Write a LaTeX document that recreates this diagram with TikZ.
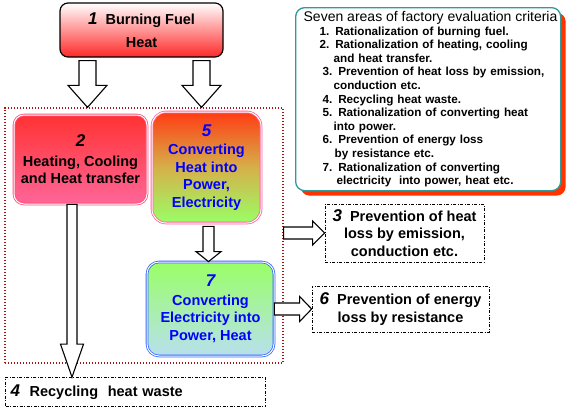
\documentclass[tikz,border=0pt]{standalone}
\usepackage{fontspec}
\setmainfont{Liberation Sans}
\usetikzlibrary{calc, positioning, shadows}
\definecolor{fuelred}{RGB}{255,40,40}
\definecolor{heatred}{RGB}{255,50,50}
\definecolor{heatpink}{RGB}{255,102,153}
\definecolor{powerred}{RGB}{255,60,20}
\definecolor{powermid}{RGB}{214,176,74}
\definecolor{powergreen}{RGB}{153,255,102}
\definecolor{elecgreen}{RGB}{153,255,102}
\definecolor{eleccyan}{RGB}{184,224,238}
\definecolor{elecblue}{RGB}{51,102,255}
\definecolor{framered}{RGB}{170,20,20}
\definecolor{critteal}{RGB}{51,153,153}
\definecolor{critshadow}{RGB}{255,51,0}

\newcommand\nlabel[1]{{\fontsize{17}{17}\selectfont\bfseries\itshape #1}}
% fat outline arrow: start, end, shaft half width, head half width, head length
\newcommand\blockarrow[5]{%
  \path (#1) coordinate (ba-s) (#2) coordinate (ba-e);
  \path ($(ba-e)!#5!(ba-s)$) coordinate (ba-h);
  \draw[fatarrow] ($(ba-s)!#3!90:(ba-e)$) -- ($(ba-h)!#3!90:(ba-e)$)
    -- ($(ba-h)!#4!90:(ba-e)$) -- (ba-e) -- ($(ba-h)!#4!-90:(ba-e)$)
    -- ($(ba-h)!#3!-90:(ba-e)$) -- ($(ba-s)!#3!-90:(ba-e)$) -- cycle;}

\begin{document}
\begin{tikzpicture}[
    x=1pt, y=-1pt,
    stage/.style={rectangle, rounded corners=10pt, align=center, inner sep=2pt,
                  font=\fontsize{14.5}{17.5}\selectfont\bfseries},
    lossbox/.style={rectangle, draw, line width=0.7pt,
                    dash pattern=on 3pt off 1.5pt on 1pt off 1.5pt, fill=white,
                    align=center, font=\fontsize{14.5}{17.5}\selectfont\bfseries},
    fatarrow/.style={draw=black, fill=white, line width=1.1pt, line join=miter}
]
    \useasboundingbox (0,0) rectangle (569,410);

    \node[stage, draw=black, line width=1.2pt, rounded corners=8pt,
          top color=white, bottom color=fuelred,
          minimum width=163pt, minimum height=54pt] (fuel) at (141.5,30)
          {\nlabel{1}\ \ Burning Fuel\\[6pt] Heat};

    \node[draw=framered, line width=1.3pt, dash pattern=on 1.3pt off 1.7pt,
          minimum width=278pt, minimum height=255pt] (frame) at (144,235.5) {};

    \node[stage, draw=heatpink!80!red, double=white, double distance=1pt,
          line width=0.8pt, top color=heatred, bottom color=heatpink,
          minimum width=133pt, minimum height=89pt] (bx2) at (80.5,159.5)
          {\nlabel{2}\\[2pt] Heating, Cooling\\ and Heat transfer};

    \node[stage, draw=heatpink, double=white, double distance=1pt,
          line width=0.8pt, rounded corners=14pt, text=blue,
          top color=powerred, bottom color=powergreen, middle color=powermid,
          minimum width=109pt, minimum height=111pt] (bx5) at (206.5,167.5)
          {\nlabel{5}\\[1pt] Converting\\ Heat into\\ Power,\\ Electricity};

    \node[stage, draw=elecblue, double=white, double distance=1pt,
          line width=0.8pt, rounded corners=12pt, text=blue,
          top color=elecgreen, bottom color=eleccyan,
          minimum width=127pt, minimum height=94pt] (bx7) at (210.5,309)
          {\nlabel{7}\\[1pt] Converting\\ Electricity into\\ Power, Heat};

    \node[lossbox, minimum width=159pt, minimum height=58pt] (bx3) at (404.5,233)
          {\nlabel{3}\ \ Prevention of heat\\ loss by emission,\\ conduction etc.};
    \node[lossbox, minimum width=177pt, minimum height=46pt] (bx6) at (400.5,309)
          {\nlabel{6}\ \ Prevention of energy\\ loss by resistance};
    \node[lossbox, minimum height=29pt, text width=250pt, align=left,
          inner sep=5pt] (bx4) at (135.5,392)
          {\nlabel{4}\ \ Recycling\ \ heat waste};

    % criteria list
    \node[draw=critteal, line width=1.3pt, rounded corners=9pt, fill=white,
          drop shadow={shadow xshift=5pt, shadow yshift=-5pt, fill=critshadow,
                       opacity=1},
          anchor=north west, text width=259pt, inner sep=3pt, align=left,
          minimum height=183pt,
          font=\fontsize{11.7}{13.6}\selectfont\bfseries] (crit) at (295,7)
          {\hspace*{5pt}{\fontsize{14}{14}\selectfont\mdseries Seven areas of factory evaluation criteria}\\
           \hspace*{21pt}1. Rationalization of burning fuel.\\
           \hspace*{21pt}2. Rationalization of heating, cooling\\
           \hspace*{35pt}and heat transfer.\\
           \hspace*{24pt}3. Prevention of heat loss by emission,\\
           \hspace*{35pt}conduction etc.\\
           \hspace*{24pt}4. Recycling heat waste.\\
           \hspace*{24pt}5. Rationalization of converting heat\\
           \hspace*{35pt}into power.\\
           \hspace*{24pt}6. Prevention of energy loss\\
           \hspace*{36pt}by resistance etc.\\
           \hspace*{24pt}7. Rationalization of converting\\
           \hspace*{38pt}electricity\ \ into power, heat etc.};

    % arrow end points
    \coordinate (fl) at ($(fuel.south)+(-54,3)$);
    \coordinate (fr) at ($(fuel.south)+(60,3)$);
    \coordinate (hw) at ($(bx2.south)+(-8.5,0)$);
    \coordinate (pw) at ($(bx5.south)+(2,3)$);

    \blockarrow{fl}{fl |- frame.north}{8.5pt}{19.5pt}{22pt}
    \blockarrow{fr}{fr |- frame.north}{8.5pt}{19.5pt}{22pt}
    \blockarrow{hw}{hw |- bx4.north}{5pt}{11.5pt}{33pt}
    \blockarrow{pw}{pw |- bx7.north}{5.5pt}{12.5pt}{10pt}
    \blockarrow{frame.east |- bx3.west}{bx3.west}{6pt}{12pt}{12pt}
    \blockarrow{bx7.east}{bx6.west}{6pt}{12.5pt}{12pt}
\end{tikzpicture}
\end{document}
